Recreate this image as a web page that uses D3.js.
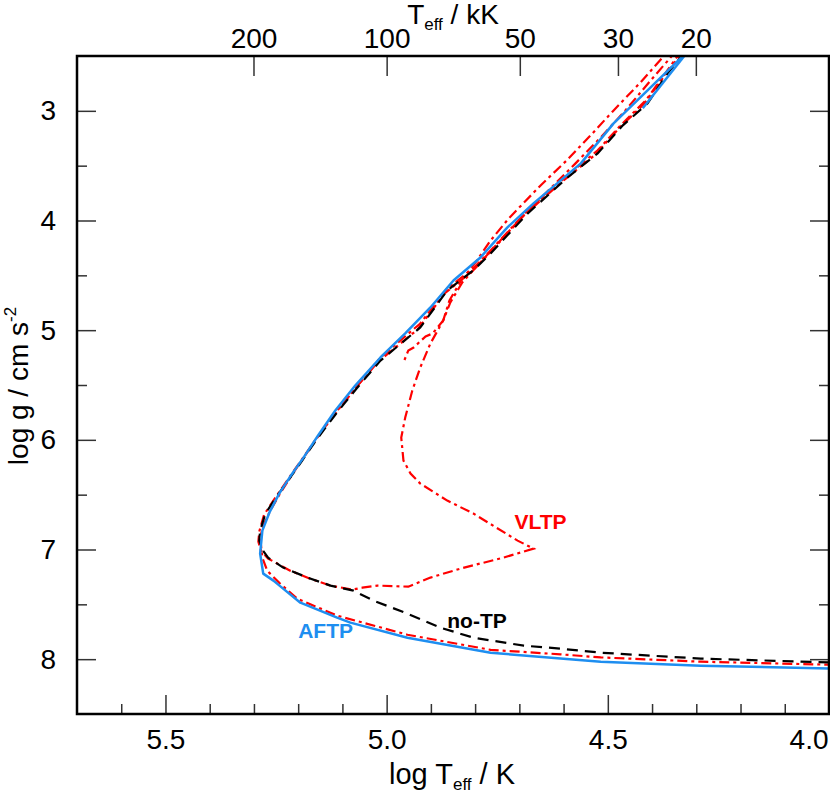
<!DOCTYPE html>
<html><head><meta charset="utf-8">
<script src="https://cdn.jsdelivr.net/npm/d3@7"></script>
<style>
body{margin:0;background:#fff}
text{font-family:"Liberation Sans",Arial,Helvetica,sans-serif}
</style>
</head><body>
<svg id="c" width="830" height="794"></svg>
<script>
// ---- tick data ----
const xTicksMajor = [5.5, 5.0, 4.5, 4.0];
const xTicksMinor = [5.6, 5.4, 5.3, 5.2, 5.1, 4.9, 4.8, 4.7, 4.6, 4.4, 4.3, 4.2, 4.1];
const yTicksMajor = [3, 4, 5, 6, 7, 8];
const yTicksMinor = [3.5, 4.5, 5.5, 6.5, 7.5];
const topTicksKK = [200, 100, 50, 30, 20];

// ---- series: [log Teff, log g] ----
const aftpTop = [[4.421,2.977],[4.317,2.448]];
const aftp = [[4.317,2.448],[4.331,2.503],[4.487,3.114],[4.561,3.479],[4.668,3.844],[4.727,4.063],
  [4.788,4.337],[4.849,4.547],[4.901,4.793],[4.958,5.030],[5.014,5.249],[5.071,5.505],[5.116,5.733],
  [5.155,5.961],[5.188,6.162],[5.218,6.335],[5.243,6.490],[5.265,6.663],[5.281,6.828],[5.286,7.037],
  [5.279,7.220],[5.256,7.284],[5.234,7.357],[5.195,7.485],[5.112,7.621],[5.082,7.667],[4.953,7.804],
  [4.765,7.941],[4.607,7.995],[4.516,8.023],[4.290,8.059],[3.950,8.090]];
const noTP = [[4.326,2.466],[4.365,2.658],[4.410,2.932],[4.466,3.132],[4.523,3.388],[4.591,3.607],
  [4.681,3.935],[4.765,4.300],[4.804,4.455],[4.863,4.638],[4.924,4.975],[5.014,5.277],[5.068,5.532],
  [5.114,5.760],[5.155,5.979],[5.191,6.189],[5.218,6.344],[5.247,6.508],[5.274,6.672],[5.286,6.828],
  [5.288,6.919],[5.281,7.001],[5.268,7.074],[5.234,7.165],[5.179,7.256],[5.127,7.329],[5.075,7.375],
  [5.030,7.466],[4.953,7.585],[4.878,7.713],[4.804,7.804],[4.690,7.877],[4.607,7.904],[4.516,7.941],
  [4.290,7.995],[3.950,8.035]];
const vltpA = [[4.328,2.448],[4.371,2.676],[4.419,2.941],[4.473,3.151],[4.530,3.406],[4.600,3.634],
  [4.690,3.954],[4.772,4.318],[4.810,4.474],[4.869,4.665],[4.930,4.994],[5.019,5.286],[5.073,5.541],
  [5.118,5.769],[5.159,5.988],[5.195,6.198],[5.222,6.353],[5.250,6.517],[5.277,6.682],[5.288,6.837],
  [5.290,6.928],[5.284,7.010],[5.268,7.083],[5.218,7.193],[5.173,7.266],[5.127,7.329],[5.078,7.366],
  [5.055,7.348],[5.021,7.329],[4.951,7.339],[4.901,7.256],[4.833,7.174],[4.736,7.074],[4.668,6.992],
  [4.704,6.919],[4.804,6.672],[4.863,6.554],[4.924,6.399],[4.946,6.307],[4.962,6.189],[4.967,5.979],
  [4.958,5.797],[4.942,5.550],[4.924,5.340],[4.901,5.121],[4.872,4.911],[4.858,4.729],[4.833,4.556],
  [4.799,4.382],[4.765,4.182],[4.724,3.981],[4.652,3.680],[4.593,3.452],[4.539,3.224],[4.489,3.005],
  [4.426,2.740],[4.362,2.448]];
const vltpB = [[4.333,2.448],[4.365,2.630],[4.414,2.904],[4.471,3.132],[4.523,3.360],[4.591,3.589],
  [4.681,3.908],[4.765,4.273],[4.804,4.437],[4.863,4.620],[4.924,4.939],[5.014,5.249],[5.068,5.514],
  [5.114,5.742],[5.155,5.970],[5.191,6.180],[5.218,6.344],[5.241,6.490],[5.263,6.645],[5.279,6.782],
  [5.286,6.891],[5.281,7.074],[5.270,7.193],[5.241,7.311],[5.202,7.448],[5.112,7.603],[4.953,7.777],
  [4.765,7.915],[4.607,7.956],[4.516,7.984],[4.290,8.023],[3.950,8.055]];
const vltpC = [[4.344,2.448],[4.403,2.722],[4.460,2.995],[4.516,3.242],[4.573,3.479],[4.634,3.725],
  [4.688,3.944],[4.743,4.182],[4.788,4.382],[4.829,4.565],[4.856,4.747],[4.872,4.911],[4.896,5.030],
  [4.912,5.057],[4.939,5.158],[4.951,5.185],[4.962,5.295]];

const labels = [
  {text:"VLTP", x:4.711, y:6.809, color:"#ff0000"},
  {text:"no-TP", x:4.863, y:7.713, color:"#000000"},
  {text:"AFTP", x:5.200, y:7.804, color:"#1e8ef0"}
];

// ---- chart ----
const L = 77, R = 829, T = 56, B = 714;
const svg = d3.select("#c");
const x = d3.scaleLinear().domain([5.7, 4.0]).range([L, R]);
const y = d3.scaleLinear().domain([2.5, 8.5]).range([T, B]);

svg.append("defs").append("clipPath").attr("id","clip")
  .append("rect").attr("x",L).attr("y",T).attr("width",R-L).attr("height",B-T);

const tickColor = "#333";
function styleAxis(g, fs){
  g.select(".domain").remove();
  g.selectAll(".tick line").attr("stroke",tickColor).attr("stroke-width",1.5);
  g.selectAll(".tick text").attr("fill","#000").style("font-size",fs+"px")
    .style("font-family",'"Liberation Sans",Arial,sans-serif');
}

// bottom
svg.append("g").attr("transform",`translate(0,${B})`)
  .call(d3.axisBottom(x).tickValues(xTicksMajor).tickSize(-19).tickPadding(15).tickFormat(d3.format(".1f")))
  .call(g=>styleAxis(g,28))
  .call(g=>g.selectAll(".tick text").filter(d=>d===4.0).attr("text-anchor","end").attr("x",-1));
svg.append("g").attr("transform",`translate(0,${B})`)
  .call(d3.axisBottom(x).tickValues(xTicksMinor).tickSize(-10).tickFormat(""))
  .call(g=>styleAxis(g,28));
// left
svg.append("g").attr("transform",`translate(${L},0)`)
  .call(d3.axisLeft(y).tickValues(yTicksMajor).tickSize(-19).tickPadding(21).tickFormat(d3.format("d")))
  .call(g=>styleAxis(g,28));
svg.append("g").attr("transform",`translate(${L},0)`)
  .call(d3.axisLeft(y).tickValues(yTicksMinor).tickSize(-10).tickFormat(""))
  .call(g=>styleAxis(g,28));
// right
svg.append("g").attr("transform",`translate(${R},0)`)
  .call(d3.axisRight(y).tickValues(yTicksMajor).tickSize(-19).tickFormat(""))
  .call(g=>styleAxis(g,28));
svg.append("g").attr("transform",`translate(${R},0)`)
  .call(d3.axisRight(y).tickValues(yTicksMinor).tickSize(-10).tickFormat(""))
  .call(g=>styleAxis(g,28));
// top (Teff in kK)
svg.append("g").attr("transform",`translate(0,${T})`)
  .call(d3.axisTop(x).tickValues(topTicksKK.map(t=>Math.log10(t*1000))).tickSize(-20).tickPadding(8)
     .tickFormat((d,i)=>topTicksKK[i]))
  .call(g=>styleAxis(g,28));

// lines
const line = d3.line().x(d=>x(d[0])).y(d=>y(d[1]));
const plot = svg.append("g").attr("clip-path","url(#clip)");
[vltpA, vltpB, vltpC].forEach(s=>{
  plot.append("path").attr("d",line(s)).attr("fill","none").attr("stroke","#ff0000")
    .attr("stroke-width",2.2).attr("stroke-dasharray","10,4,3,4");
});
plot.append("path").attr("d",line(noTP)).attr("fill","none").attr("stroke","#000")
  .attr("stroke-width",2.2).attr("stroke-dasharray","11,7");
[aftp, aftpTop].forEach(s=>{
  plot.append("path").attr("d",line(s)).attr("fill","none").attr("stroke","#1e8ef0")
    .attr("stroke-width",2.5).attr("stroke-linejoin","round");
});

// frame
svg.append("rect").attr("x",L).attr("y",T).attr("width",R-L).attr("height",B-T)
  .attr("fill","none").attr("stroke","#000").attr("stroke-width",2.5);

// curve labels
labels.forEach(l=>{
  svg.append("text").attr("x",x(l.x)).attr("y",y(l.y)).text(l.text)
    .attr("fill",l.color).style("font-size","21px").style("font-weight","bold");
});

// axis titles
const bt = svg.append("text").attr("x",452).attr("y",784).attr("text-anchor","middle").style("font-size","29px");
bt.append("tspan").text("log T");
bt.append("tspan").text("eff").style("font-size","17px").attr("dy","6");
bt.append("tspan").text(" / K").attr("dy","-6");

const tt = svg.append("text").attr("x",453).attr("y",24).attr("text-anchor","middle").style("font-size","28px");
tt.append("tspan").text("T");
tt.append("tspan").text("eff").style("font-size","17px").attr("dy","6");
tt.append("tspan").text(" / kK").attr("dy","-6");

const lt = svg.append("text").attr("transform","translate(28,386) rotate(-90)")
  .attr("text-anchor","middle").style("font-size","28px");
lt.append("tspan").text("log g / cm s");
lt.append("tspan").text("-2").style("font-size","17px").attr("dy","-12");
</script>
</body></html>
